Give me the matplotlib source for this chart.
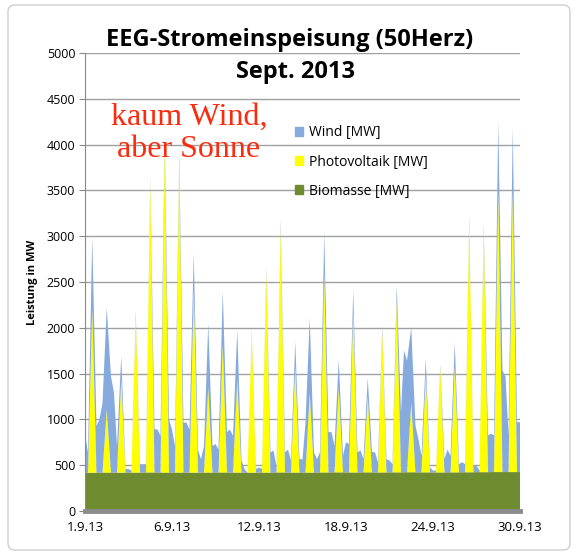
import numpy as np
import matplotlib
matplotlib.use('Agg')
import matplotlib.pyplot as plt
from matplotlib.patches import FancyBboxPatch, Patch

# Werte je Tag um 0h, 5h, 12h, 19h
hours = [0, 5, 12, 19]
wind_by_day = [
    [420, 220, 780, 510], [580, 760, 1110, 1050], [870, 290, 250, 40],
    [40, 20, 50, 90], [90, 90, 50, 470], [470, 400, 100, 580],
    [470, 290, 100, 545], [545, 470, 400, 250], [145, 290, 700, 290],
    [310, 250, 580, 440], [470, 400, 540, 130], [40, 0, 30, 40],
    [55, 40, 50, 220], [240, 70, 80, 220], [250, 130, 270, 145],
    [145, 545, 820, 220], [145, 220, 440, 440], [440, 290, 300, 180],
    [330, 310, 230, 220], [240, 145, 200, 220], [220, 110, 50, 145],
    [130, 90, 150, 650], [1330, 1220, 820, 510], [360, 180, 180, 55],
    [20, 20, 30, 145], [250, 180, 260, 90], [110, 90, 60, 70],
    [70, 20, 60, 400], [420, 400, 750, 1110], [1040, 400, 680, 545],
]
wind_end = 545

# Photovoltaik-Spitzen mittags
pv_peak = [1800, 690, 1020, 1710, 3170, 3580, 3380, 2000, 930, 1400,
           1020, 1530, 2190, 2680, 1160, 870, 2180, 930, 1760, 830,
           1540, 1890, 760, 1060, 1150, 1160, 2730, 2650, 3080, 3080]

bio_daily = [418, 420, 419, 420, 421, 420, 420, 419, 420, 421,
             420, 419, 420, 421, 420, 420, 421, 422, 421, 422,
             421, 422, 423, 422, 421, 422, 423, 424, 425, 425]

tick_days = [0, 6, 12, 18, 24, 30]
tick_labels = ['1.9.13', '6.9.13', '12.9.13', '18.9.13', '24.9.13', '30.9.13']

n_days = len(pv_peak)
t = np.append((np.arange(n_days)[:, None] + np.array(hours)[None, :] / 24.0).ravel(), n_days)
wind = np.append(np.array(wind_by_day).ravel(), wind_end)
pv = np.zeros(len(t))
pv[2:-1:4] = pv_peak
bio = np.append(np.repeat(bio_daily, 4), bio_daily[-1])

c_wind = '#86a9de'
c_pv = '#ffff00'
c_bio = '#6e8b2f'

fig = plt.figure(figsize=(5.77, 5.56), dpi=100)
ax = fig.add_axes([85/577, 45/556, 435/577, 458/556])

ax.stackplot(t, bio, pv, wind, colors=[c_bio, c_pv, c_wind], linewidth=0)

ax.set_xlim(0, 30)
ax.set_ylim(0, 5000)
ax.set_yticks(np.arange(0, 5001, 500))
ax.set_xticks(tick_days)
ax.set_xticklabels(tick_labels)
ax.grid(axis='y', color='#a0a0a0', linewidth=1)
ax.set_axisbelow(True)
for s in ['top', 'right']:
    ax.spines[s].set_visible(False)
ax.spines['left'].set_color('#8a8a8a')
ax.spines['bottom'].set_color('#8c8c8c')
ax.spines['bottom'].set_linewidth(3.5)
ax.tick_params(axis='y', length=4, color='#8a8a8a', pad=3, labelsize=9)
ax.tick_params(axis='x', length=0, pad=7, labelsize=9.5)
for lab in ax.get_xticklabels() + ax.get_yticklabels():
    lab.set_fontfamily('Open Sans')

ax.set_ylabel('Leistung in MW', fontsize=8, fontweight='bold',
              fontfamily='Open Sans', labelpad=6)

handles = [Patch(color=c_wind), Patch(color=c_pv), Patch(color=c_bio)]
labels = ['Wind [MW]', 'Photovoltaik [MW]', 'Biomasse [MW]']
ax.legend(handles, labels, loc='upper left', bbox_to_anchor=(0.466, 0.857),
          frameon=False, handlelength=0.6, handleheight=0.6, handletextpad=0.4,
          labelspacing=1.02, borderpad=0,
          prop={'family': 'Open Sans', 'size': 10})

fig.text(290/577, 1 - 40/556, 'EEG-Stromeinspeisung (50Herz)', ha='center',
         va='center', fontsize=17, fontweight='bold', fontfamily='Open Sans')
fig.text(296/577, 1 - 72/556, 'Sept. 2013', ha='center', va='center',
         fontsize=17, fontweight='bold', fontfamily='Open Sans')

fig.text(189/577, 1 - 133/556, 'kaum Wind,\naber Sonne', ha='center',
         va='center', fontsize=23, color='#fb2b0e',
         fontfamily='Liberation Serif', linespacing=1.15)

fig.patches.append(FancyBboxPatch((8/577, 6/556), 562/577, 545/556,
                                  boxstyle='round,pad=0,rounding_size=0.012',
                                  transform=fig.transFigure, fill=False,
                                  edgecolor='#cfcfcf', linewidth=1))

fig.savefig('out.png', dpi=100)
